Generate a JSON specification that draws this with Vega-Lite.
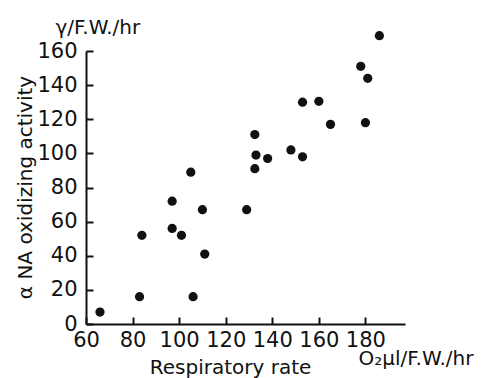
{
  "$schema": "https://vega.github.io/schema/vega-lite/v6.json",
  "autosize": "none",
  "padding": {"left": 86, "top": 51, "right": 80, "bottom": 54},
  "width": 319,
  "height": 273,
  "background": "white",
  "config": {
    "view": {"stroke": null},
    "font": "DejaVu Sans",
    "axis": {"grid": false, "labelFont": "DejaVu Sans", "titleFont": "DejaVu Sans", "titleFontWeight": "normal", "labelColor": "#111", "titleColor": "#111", "domainColor": "#111", "tickColor": "#111"}
  },
  "data": {
    "values": [
      {"rate": 66, "activity": 7},
      {"rate": 83, "activity": 16},
      {"rate": 84, "activity": 52},
      {"rate": 97, "activity": 72},
      {"rate": 97, "activity": 56},
      {"rate": 101, "activity": 52},
      {"rate": 105, "activity": 89},
      {"rate": 106, "activity": 16},
      {"rate": 110, "activity": 67},
      {"rate": 111, "activity": 41},
      {"rate": 129, "activity": 67},
      {"rate": 132.5, "activity": 111},
      {"rate": 133, "activity": 99},
      {"rate": 132.5, "activity": 91},
      {"rate": 138, "activity": 97},
      {"rate": 148, "activity": 102},
      {"rate": 153, "activity": 98},
      {"rate": 153, "activity": 130},
      {"rate": 160, "activity": 130.5},
      {"rate": 165, "activity": 117},
      {"rate": 178, "activity": 151},
      {"rate": 181, "activity": 144},
      {"rate": 180, "activity": 118},
      {"rate": 186, "activity": 169}
    ]
  },
  "layer": [
    {
      "mark": {"type": "point", "filled": true, "size": 85, "color": "#111", "opacity": 1, "clip": false},
      "encoding": {
        "x": {
          "field": "rate", "type": "quantitative",
          "scale": {"domain": [60, 197], "nice": false, "zero": false},
          "axis": {
            "orient": "bottom", "values": [60, 80, 100, 120, 140, 160, 180],
            "domainWidth": 2, "tickWidth": 2, "tickSize": -7, "labelPadding": 12,
            "labelFontSize": 21, "labelFlush": false, "labelOverlap": false,
            "title": "Respiratory rate", "titleFontSize": 20,
            "titleX": 144, "titleY": 49, "titleBaseline": "alphabetic", "titleAlign": "center", "titleAngle": 0
          }
        },
        "y": {
          "field": "activity", "type": "quantitative",
          "scale": {"domain": [0, 160], "nice": false},
          "axis": {
            "orient": "left", "values": [0, 20, 40, 60, 80, 100, 120, 140, 160],
            "domainWidth": 2, "tickWidth": 2, "tickSize": -7, "labelPadding": 16,
            "labelFontSize": 21, "labelFlush": false, "labelOverlap": false,
            "title": "α NA oxidizing activity", "titleFontSize": 20,
            "titleX": -55, "titleY": 136, "titleBaseline": "alphabetic", "titleAlign": "center", "titleAngle": -90
          }
        }
      }
    },
    {
      "mark": {"type": "point", "filled": true, "size": 85, "opacity": 0, "clip": false},
      "encoding": {
        "x": {
          "field": "rate", "type": "quantitative",
          "axis": {
            "orient": "top", "domain": false, "ticks": false, "labels": false,
            "title": "γ/F.W./hr", "titleFontSize": 20,
            "titleX": -31, "titleY": -18, "titleBaseline": "alphabetic", "titleAlign": "left", "titleAngle": 0
          }
        },
        "y": {
          "field": "activity", "type": "quantitative",
          "axis": {
            "orient": "right", "domain": false, "ticks": false, "labels": false,
            "title": "O₂μl/F.W./hr", "titleFontSize": 20,
            "titleX": -47, "titleY": 313, "titleBaseline": "alphabetic", "titleAlign": "left", "titleAngle": 0
          }
        }
      }
    }
  ],
  "resolve": {"axis": {"x": "independent", "y": "independent"}}
}
